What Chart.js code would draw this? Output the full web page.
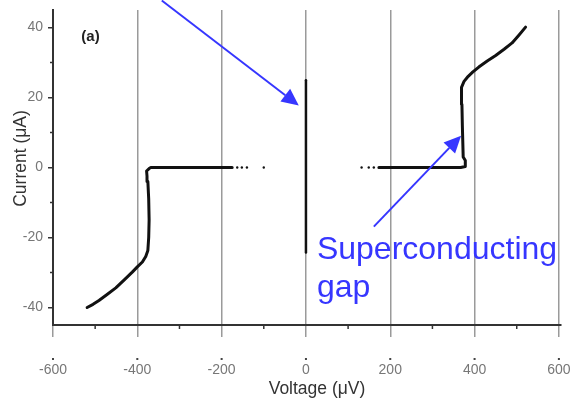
<!DOCTYPE html>
<html>
<head>
<meta charset="utf-8">
<script src="https://cdn.jsdelivr.net/npm/chart.js@4.4.1/dist/chart.umd.min.js"></script>
<style>
  html, body { margin: 0; padding: 0; background: #fff; }
</style>
</head>
<body>
<canvas id="canvasIV" width="571" height="401"></canvas>
<script>
const FONT = "'Liberation Sans', Arial, sans-serif";
const BLUE = '#3636ff';

// negative branch (µV, µA)
const leftV = [-519, -505, -491, -471, -451, -431, -412, -400, -388, -380, -375, -373, -372, -373, -375, -377, -378, -372, -368, -320, -270, -220, -175];
const leftI = [-40, -39.1, -38, -36.2, -34.4, -32.1, -29.9, -28.4, -27, -25.4, -23.7, -20, -15, -9, -4, -2.5, -1, -0.3, 0, 0, 0, 0, 0];
const leftDotsV = [-163, -152, -140, -100];
const leftDotsI = [0, 0, 0, 0];

// supercurrent at zero voltage
const centerV = [0, 0];
const centerI = [-24.3, 24.9];

// positive branch
const rightDotsV = [132, 149, 161];
const rightDotsI = [0, 0, 0];
const rightV = [173, 220, 270, 320, 367, 378, 378, 373, 371, 370, 369, 375, 383, 396, 410, 430, 450, 470, 489, 505, 521];
const rightI = [0, 0, 0, 0, 0, 0.3, 2, 3, 12, 18, 22.9, 24.6, 25.8, 27.3, 28.7, 30.4, 32, 33.8, 35.6, 37.8, 40.1];

// axis ticks
const xTickLabels = [-600, -400, -200, 0, 200, 400, 600];
const xMinorTicks = [-500, -300, -100, 100, 300, 500];
const yTickLabels = [-40, -20, 0, 20, 40];
const yMinorTicks = [-30, -10, 10, 30];

const X_TITLE = 'Voltage (μV)';
const Y_TITLE = 'Current (μA)';

function toPoints(xs, ys) {
    return xs.map((v, i) => ({ x: v, y: ys[i] }));
}

function line(ctx, x1, y1, x2, y2) {
    ctx.beginPath();
    ctx.moveTo(x1, y1);
    ctx.lineTo(x2, y2);
    ctx.stroke();
}

function arrow(ctx, x1, y1, x2, y2) {
    const ang = Math.atan2(y2 - y1, x2 - x1);
    const len = 17, half = 8;
    const bx = x2 - len * Math.cos(ang), by = y2 - len * Math.sin(ang);
    line(ctx, x1, y1, bx, by);
    ctx.beginPath();
    ctx.moveTo(x2, y2);
    ctx.lineTo(bx + half * Math.sin(ang), by - half * Math.cos(ang));
    ctx.lineTo(bx - half * Math.sin(ang), by + half * Math.cos(ang));
    ctx.closePath();
    ctx.fill();
}

// minor ticks, axis titles, panel label and the blue notes
const notesPlugin = {
    id: 'notes',
    afterDraw(chart) {
        const { ctx, chartArea, scales: { x, y } } = chart;
        ctx.save();

        ctx.strokeStyle = '#333';
        ctx.lineWidth = 1.5;
        xMinorTicks.forEach(v => {
            const px = x.getPixelForValue(v);
            line(ctx, px, chartArea.bottom, px, chartArea.bottom + 4);
        });
        yMinorTicks.forEach(v => {
            const py = y.getPixelForValue(v);
            line(ctx, chartArea.left - 3, py, chartArea.left, py);
        });

        ctx.fillStyle = '#444';
        xTickLabels.forEach(v => {
            const px = x.getPixelForValue(v);
            ctx.fillRect(px - 1, chartArea.bottom + 33, 2, 2);
        });

        // axis titles (sit a little off-centre in the original)
        ctx.fillStyle = '#333';
        ctx.font = `17.5px ${FONT}`;
        ctx.textAlign = 'center';
        ctx.textBaseline = 'middle';
        ctx.fillText(X_TITLE, (chartArea.left + chartArea.right) / 2 + 10, chartArea.bottom + 64);
        ctx.save();
        ctx.translate(21, (chartArea.top + chartArea.bottom) / 2 - 9);
        ctx.rotate(-Math.PI / 2);
        ctx.fillText(Y_TITLE, 0, 0);
        ctx.restore();

        ctx.fillStyle = '#222';
        ctx.font = `bold 15px ${FONT}`;
        ctx.fillText('(a)', x.getPixelForValue(-511), y.getPixelForValue(37.4));

        ctx.strokeStyle = BLUE;
        ctx.fillStyle = BLUE;
        ctx.lineWidth = 2;
        arrow(ctx, x.getPixelForValue(-342), y.getPixelForValue(47.7), x.getPixelForValue(-17), y.getPixelForValue(17.7));
        arrow(ctx, x.getPixelForValue(161), y.getPixelForValue(-16.9), x.getPixelForValue(368), y.getPixelForValue(9.1));

        ctx.font = `32px ${FONT}`;
        ctx.textAlign = 'left';
        ctx.textBaseline = 'alphabetic';
        ctx.fillText('Superconducting', x.getPixelForValue(26), y.getPixelForValue(-26));
        ctx.fillText('gap', x.getPixelForValue(26), y.getPixelForValue(-37.1));

        ctx.restore();
    }
};

const lineStyle = {
    showLine: true,
    borderColor: '#111',
    borderWidth: 3,
    borderJoinStyle: 'round',
    borderCapStyle: 'round',
    pointRadius: 0,
    tension: 0
};
const dotStyle = {
    showLine: false,
    pointRadius: 1.2,
    pointBorderWidth: 0,
    pointBackgroundColor: '#111'
};

new Chart(document.getElementById('canvasIV'), {
    type: 'scatter',
    data: {
        datasets: [
            { data: toPoints(leftV, leftI), ...lineStyle },
            { data: toPoints(leftDotsV, leftDotsI), ...dotStyle },
            { data: toPoints(centerV, centerI), ...lineStyle, borderWidth: 2.5 },
            { data: toPoints(rightDotsV, rightDotsI), ...dotStyle },
            { data: toPoints(rightV, rightI), ...lineStyle }
        ]
    },
    options: {
        responsive: false,
        animation: false,
        layout: { padding: { top: 10, right: 10, left: 0, bottom: 0 } },
        plugins: { legend: { display: false }, tooltip: { enabled: false } },
        scales: {
            x: {
                type: 'linear',
                min: -600,
                max: 605,
                afterBuildTicks: scale => { scale.ticks = xTickLabels.map(v => ({ value: v })); },
                afterFit: scale => {
                    scale.height = 76;
                    scale.paddingLeft = 0;
                    scale.paddingRight = 0;
                },
                grid: { color: '#9a9a9a', lineWidth: 1.5, tickLength: 12 },
                border: { display: true, color: '#333', width: 2 },
                ticks: { color: '#777', padding: 25, maxRotation: 0, font: { family: FONT, size: 14 } }
            },
            y: {
                min: -45,
                max: 45,
                afterBuildTicks: scale => { scale.ticks = yTickLabels.map(v => ({ value: v })); },
                afterFit: scale => {
                    scale.width = 53;
                    scale.paddingTop = 0;
                    scale.paddingBottom = 0;
                },
                grid: { drawOnChartArea: false, color: '#333', lineWidth: 1.5, tickLength: 5 },
                border: { display: true, color: '#333', width: 2 },
                ticks: { color: '#777', padding: 5, font: { family: FONT, size: 14 } }
            }
        }
    },
    plugins: [notesPlugin]
});
</script>
</body>
</html>
